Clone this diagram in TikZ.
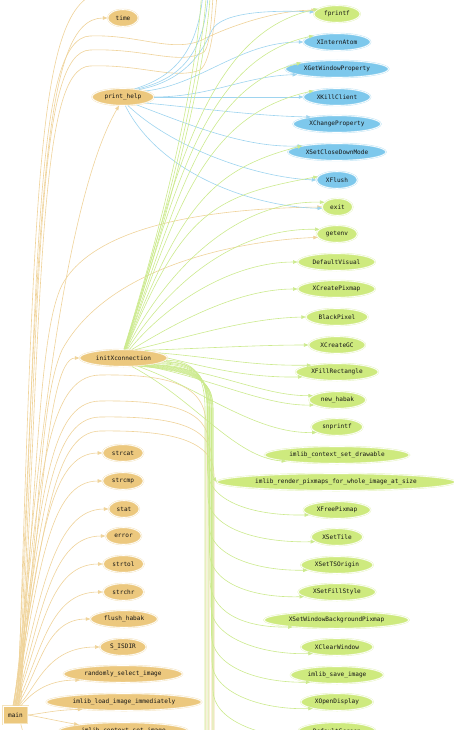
\documentclass[tikz,border=0pt]{standalone}
\usepackage{fontspec}
\setmonofont{DejaVu Sans Mono}
\usepackage{xcolor}
\usepackage{tikz}
\usetikzlibrary{arrows.meta,shapes.geometric}
\definecolor{callerfill}{HTML}{ECC87E}
\definecolor{leaffill}{HTML}{CEEA7E}
\definecolor{xfill}{HTML}{7DC8EC}
\definecolor{mainline}{HTML}{EFD39A}
\definecolor{initline}{HTML}{CCEA8E}
\definecolor{helpline}{HTML}{9ED4EF}
\definecolor{labeltext}{HTML}{141414}
\tikzset{every node/.append style={font=\ttfamily\fontsize{6.1}{7}\selectfont,text=labeltext}}
\tikzset{
  fn/.style={ellipse,inner xsep=3.5pt,inner ysep=2pt,minimum height=17pt,line width=.45pt,double=white,double distance=.6pt},
  callerfn/.style={fn,fill=callerfill,draw=callerfill!50!white},
  leaffn/.style={fn,fill=leaffill,draw=leaffill!50!white},
  xfn/.style={fn,fill=xfill,draw=xfill!50!white},
  mainbox/.style={rectangle,fill=callerfill,draw=callerfill!50!white,line width=.45pt,double=white,double distance=.6pt,minimum width=25pt,minimum height=18pt,inner sep=0pt},
  maincall/.style={->,mainline,line width=.6pt},
  initcall/.style={->,initline,line width=.6pt},
  helpcall/.style={->,helpline,line width=.6pt}
}

\begin{document}
\begin{tikzpicture}[>={Triangle[length=4.5pt,width=3.5pt]},x=1pt,y=-1pt]
\useasboundingbox (0,0) rectangle (454,730);
\clip (0,0) rectangle (454,730);
% callers, left column
\node[mainbox] (main) at (15.5,715) {main};
\node[callerfn] (time) at (123,18) {time};
\node[callerfn] (printhelp) at (123,97) {print\_help};
\node[callerfn] (initX) at (123.5,358) {initXconnection};
\node[callerfn] (strcat) at (123,453) {strcat};
\node[callerfn] (strcmp) at (123,481) {strcmp};
\node[callerfn] (stat) at (124,509) {stat};
\node[callerfn] (error) at (123.5,536) {error};
\node[callerfn] (strtol) at (123.5,564) {strtol};
\node[callerfn] (strchr) at (123.5,592) {strchr};
\node[callerfn] (flushhabak) at (124,619) {flush\_habak};
\node[callerfn] (sisdir) at (123,647) {S\_ISDIR};
\node[callerfn] (randsel) at (123,674) {randomly\_select\_image};
\node[callerfn] (loadimg) at (124,702) {imlib\_load\_image\_immediately};
\node[callerfn] (ctxsetimg) at (123.5,731) {imlib\_context\_set\_image};
% callees, right column
\node[leaffn] (fprintf) at (337,14) {fprintf};
\node[xfn] (XInternAtom) at (337,42) {XInternAtom};
\node[xfn] (XGetWindowProperty) at (337,69) {XGetWindowProperty};
\node[xfn] (XKillClient) at (337,97) {XKillClient};
\node[xfn] (XChangeProperty) at (337,124) {XChangeProperty};
\node[xfn] (XSetCloseDownMode) at (337,152) {XSetCloseDownMode};
\node[xfn] (XFlush) at (337,180) {XFlush};
\node[leaffn] (exit) at (337.5,207) {exit};
\node[leaffn] (getenv) at (337,234) {getenv};
\node[leaffn] (DefaultVisual) at (336.5,262) {DefaultVisual};
\node[leaffn] (XCreatePixmap) at (336.5,289) {XCreatePixmap};
\node[leaffn] (BlackPixel) at (337,317) {BlackPixel};
\node[leaffn] (XCreateGC) at (337,345) {XCreateGC};
\node[leaffn] (XFillRectangle) at (337,372) {XFillRectangle};
\node[leaffn] (newhabak) at (337.5,400) {new\_habak};
\node[leaffn] (snprintf) at (337,427) {snprintf};
\node[leaffn] (ctxsetdraw) at (337,455) {imlib\_context\_set\_drawable};
\node[leaffn] (renderpix) at (336,482) {imlib\_render\_pixmaps\_for\_whole\_image\_at\_size};
\node[leaffn] (XFreePixmap) at (337,510) {XFreePixmap};
\node[leaffn] (XSetTile) at (337,537) {XSetTile};
\node[leaffn] (XSetTSOrigin) at (337,565) {XSetTSOrigin};
\node[leaffn] (XSetFillStyle) at (337,592) {XSetFillStyle};
\node[leaffn] (XSetWindowBackgroundPixmap) at (336.5,620) {XSetWindowBackgroundPixmap};
\node[leaffn] (XClearWindow) at (337,647) {XClearWindow};
\node[leaffn] (saveimg) at (337,675) {imlib\_save\_image};
\node[leaffn] (XOpenDisplay) at (337,702) {XOpenDisplay};
\node[leaffn] (DefaultScreen) at (337,731) {DefaultScreen};
% ends of calls that leave the picture
\coordinate (abovetime) at (112,-9);
\coordinate (offwaveA) at (214,-20);
\coordinate (offwaveB) at (218,-20);
\coordinate (offloopA) at (206,745);
\coordinate (offloopB) at (209,745);
\coordinate (offloopC) at (212,745);
\coordinate (offloopD) at (214,745);
\coordinate (belowmain) at (50,750);
\coordinate (offhelpA) at (204,-20);
\coordinate (offhelpB) at (209,-20);
\coordinate (offinitA) at (202,-20);
\coordinate (offinitB) at (207,-20);
\coordinate (offinitC) at (211,-20);
\coordinate (offinitD) at (205,745);
\coordinate (offinitE) at (208,745);
\coordinate (offinitF) at (213,745);
% main
\draw[maincall] (main.80) .. controls (40,200) and (42,18) .. (time.west);
\draw[maincall] (main.75) .. controls (36,150) and (38,-6) .. (abovetime);
\draw[maincall] (main.70) .. controls (38,250) and (36,38) .. (90,36) .. controls (140,34) and (175,55) .. (206,38) .. controls (235,24) and (280,10) .. (fprintf.170);
\draw[maincall] (main.65) .. controls (40,260) and (38,52) .. (90,50) .. controls (145,48) and (180,66) .. (204,52) .. controls (211,44) and (212,10) .. (offwaveA);
\draw[maincall] (main.60) .. controls (42,270) and (40,68) .. (90,66) .. controls (140,64) and (175,80) .. (200,70) .. controls (212,62) and (216,10) .. (offwaveB);
\draw[maincall] (main.85) .. controls (38,420) and (70,190) .. (printhelp.-115);
\draw[maincall] (main.70) .. controls (38,460) and (40,330) .. (62,285) .. controls (100,215) and (250,208) .. (exit.west);
\draw[maincall] (main.75) .. controls (40,520) and (40,400) .. (62,350) .. controls (110,262) and (250,240) .. (getenv.-170);
\draw[maincall] (main.90) .. controls (40,560) and (45,358) .. (initX.west);
\draw[maincall] (main.100) .. controls (40,480) and (45,376) .. (100,375) .. controls (170,374) and (206,385) .. (206,425) -- (offloopA);
\draw[maincall] (main.100) .. controls (42,500) and (47,402) .. (100,401) .. controls (170,400) and (209,410) .. (209,445) -- (offloopB);
\draw[maincall] (main.105) .. controls (43,520) and (48,418) .. (100,417) .. controls (170,416) and (212,425) .. (212,460) -- (offloopC);
\draw[maincall] (main.105) .. controls (44,540) and (50,432) .. (100,431) .. controls (170,430) and (214,440) .. (214,475) -- (offloopD);
\draw[maincall] (main.95) .. controls (40,540) and (50,453) .. (strcat.west);
\draw[maincall] (main.95) .. controls (40,565) and (50,481) .. (strcmp.west);
\draw[maincall] (main.95) .. controls (41,590) and (55,509) .. (stat.west);
\draw[maincall] (main.90) .. controls (42,610) and (52,536) .. (error.west);
\draw[maincall] (main.90) .. controls (42,630) and (50,564) .. (strtol.west);
\draw[maincall] (main.85) .. controls (42,650) and (50,592) .. (strchr.west);
\draw[maincall] (main.80) .. controls (40,670) and (45,619) .. (flushhabak.west);
\draw[maincall] (main.75) .. controls (36,690) and (45,647) .. (sisdir.west);
\draw[maincall] (main.60) .. controls (30,695) and (45,680) .. (randsel.-172);
\draw[maincall] (main.east) .. controls (45,713) and (55,710) .. (loadimg.-170);
\draw[maincall] (main.east) .. controls (45,718) and (58,721) .. (ctxsetimg.172);
\draw[maincall] (main.-60) .. controls (25,740) .. (belowmain);
% print_help
\draw[helpcall] (printhelp.35) .. controls (180,75) and (200,45) .. (offhelpA);
\draw[helpcall] (printhelp.30) .. controls (185,78) and (206,50) .. (offhelpB);
\draw[helpcall] (printhelp.25) .. controls (190,80) and (205,45) .. (212,30) .. controls (222,12) and (270,10) .. (fprintf.175);
\draw[helpcall] (printhelp.15) .. controls (200,85) and (240,42) .. (XInternAtom.west);
\draw[helpcall] (printhelp.east) .. controls (210,97) and (245,76) .. (XGetWindowProperty.-172);
\draw[helpcall] (printhelp.east) -- (XKillClient.west);
\draw[helpcall] (printhelp.-15) .. controls (200,108) and (255,116) .. (XChangeProperty.165);
\draw[helpcall] (printhelp.-30) .. controls (190,125) and (245,148) .. (XSetCloseDownMode.170);
\draw[helpcall] (printhelp.-60) .. controls (175,150) and (260,178) .. (XFlush.west);
\draw[helpcall] (printhelp.-75) .. controls (160,175) and (255,207) .. (exit.-175);
% initXconnection, up
\draw[initcall] (initX.88) .. controls (170,200) and (200,60) .. (offinitA);
\draw[initcall] (initX.86) .. controls (172,200) and (204,60) .. (offinitB);
\draw[initcall] (initX.84) .. controls (174,200) and (208,60) .. (offinitC);
\draw[initcall] (initX.85) .. controls (172,200) and (198,34) .. (fprintf.165);
\draw[initcall] (initX.82) .. controls (174,200) and (200,60) .. (XInternAtom.165);
\draw[initcall] (initX.80) .. controls (176,205) and (202,88) .. (XGetWindowProperty.170);
\draw[initcall] (initX.78) .. controls (178,205) and (205,115) .. (XKillClient.165);
\draw[initcall] (initX.76) .. controls (180,210) and (208,170) .. (XSetCloseDownMode.170);
\draw[initcall] (initX.74) .. controls (182,215) and (210,196) .. (XFlush.170);
\draw[initcall] (initX.70) .. controls (160,280) and (230,200) .. (exit.160);
\draw[initcall] (initX.65) .. controls (165,290) and (230,228) .. (getenv.165);
\draw[initcall] (initX.55) .. controls (170,300) and (235,262) .. (DefaultVisual.west);
\draw[initcall] (initX.45) .. controls (180,320) and (240,289) .. (XCreatePixmap.west);
\draw[initcall] (initX.35) .. controls (195,335) and (250,318) .. (BlackPixel.west);
\draw[initcall] (initX.20) .. controls (210,348) and (260,345) .. (XCreateGC.west);
% initXconnection, right and down
\draw[initcall] (initX.8) .. controls (220,358) and (250,366) .. (XFillRectangle.165);
\draw[initcall] (initX.east) .. controls (210,368) and (250,378) .. (XFillRectangle.-172);
\draw[initcall] (initX.-12) .. controls (220,372) and (265,396) .. (newhabak.170);
\draw[initcall] (initX.-20) .. controls (210,378) and (265,406) .. (newhabak.-168);
\draw[initcall] (initX.-30) .. controls (200,388) and (255,434) .. (snprintf.-165);
\draw[initcall] (initX.-45) .. controls (195,400) and (235,458) .. (ctxsetdraw.-173);
\draw[initcall] (initX.-5) .. controls (195,362) and (207,375) .. (207,410) -- (207,445) .. controls (207,468) and (214,478) .. (renderpix.west);
\draw[initcall] (initX.-8) .. controls (196,363) and (207.5,376) .. (207.5,410) -- (207.5,470) .. controls (207.5,500) and (250,516) .. (XFreePixmap.-170);
\draw[initcall] (initX.-10) .. controls (197,364) and (208,377) .. (208,410) -- (208,497) .. controls (208,527) and (255,543) .. (XSetTile.-168);
\draw[initcall] (initX.-14) .. controls (198,365) and (209,378) .. (209,410) -- (209,525) .. controls (209,555) and (255,571) .. (XSetTSOrigin.-170);
\draw[initcall] (initX.-16) .. controls (199,366) and (209.5,379) .. (209.5,410) -- (209.5,552) .. controls (209.5,582) and (250,598) .. (XSetFillStyle.-172);
\draw[initcall] (initX.-18) .. controls (200,367) and (210,380) .. (210,410) -- (210,580) .. controls (210,610) and (240,628) .. (XSetWindowBackgroundPixmap.-171);
\draw[initcall] (initX.-20) .. controls (201,368) and (211,381) .. (211,410) -- (211,607) .. controls (211,637) and (260,655) .. (XClearWindow.-165);
\draw[initcall] (initX.-22) .. controls (202,369) and (211.5,382) .. (211.5,410) -- (211.5,635) .. controls (211.5,665) and (255,683) .. (saveimg.-165);
\draw[initcall] (initX.-24) .. controls (203,370) and (212,383) .. (212,410) -- (212,662) .. controls (212,692) and (260,710) .. (XOpenDisplay.-165);
\draw[initcall] (initX.-26) .. controls (204,371) and (213,384) .. (213,410) -- (213,690) .. controls (213,720) and (260,738) .. (DefaultScreen.-165);
\draw[initcall] (initX.-3) .. controls (194,361) and (205,374) .. (205,410) -- (offinitD);
\draw[initcall] (initX.-6) .. controls (195,362) and (208,376) .. (208,410) -- (offinitE);
\draw[initcall] (initX.-28) .. controls (205,372) and (213,385) .. (213,410) -- (offinitF);
\end{tikzpicture}
\end{document}
